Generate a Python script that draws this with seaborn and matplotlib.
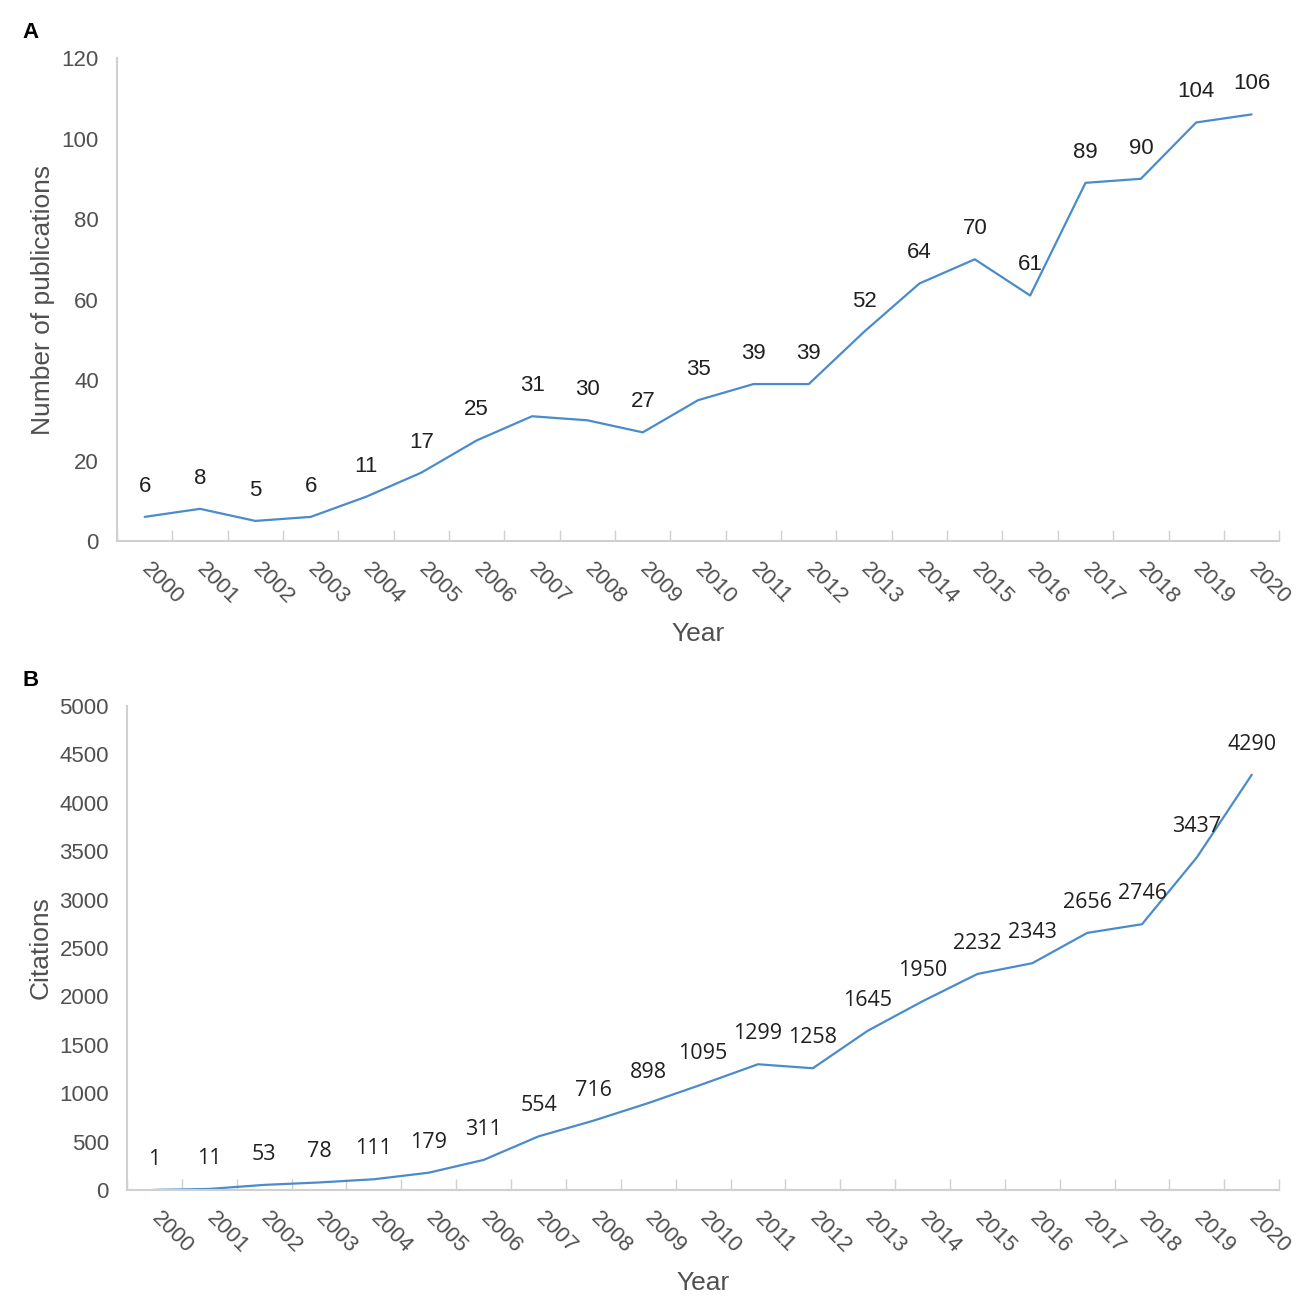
import numpy as np
import pandas as pd
import matplotlib
matplotlib.use("Agg")
import matplotlib.pyplot as plt
import seaborn as sns

years = [str(y) for y in range(2000, 2021)]
publications = [6, 8, 5, 6, 11, 17, 25, 31, 30, 27, 35, 39, 39, 52, 64, 70, 61, 89, 90, 104, 106]
citations = [1, 11, 53, 78, 111, 179, 311, 554, 716, 898, 1095, 1299, 1258, 1645, 1950, 2232,
             2343, 2656, 2746, 3437, 4290]

sns.set_theme(style="white")
plt.rcParams['font.family'] = ['Liberation Sans', 'DejaVu Sans']

line_color = "#4a8ccb"
text_color = "#505050"
spine_color = "#d0d0d0"

fig = plt.figure(figsize=(13, 12.99), dpi=100)
ax_a = fig.add_axes([0.090, 0.5835, 0.894, 0.3718])
ax_b = fig.add_axes([0.0977, 0.0839, 0.8863, 0.3726])


def draw_panel(ax, values, ylim, yticks, ylabel, label_font, label_size, ypad):
    df = pd.DataFrame({"Year": years, "Value": values})
    sns.lineplot(data=df, x="Year", y="Value", ax=ax, color=line_color, linewidth=1.6)
    ax.set_xlim(-0.5, len(years) - 0.5)
    ax.set_ylim(*ylim)
    ax.set_yticks(yticks)
    ax.tick_params(axis="y", labelsize=16, colors=text_color, length=4, width=1,
                   direction="in", color=spine_color, pad=13)
    ax.set_xticks(range(len(years)))
    ax.set_xticklabels(years, rotation=-45, ha="left", va="center",
                       rotation_mode="anchor", fontsize=16, color=text_color)
    ax.tick_params(axis="x", which="major", length=0, pad=18)
    ax.set_xticks(np.arange(-0.5, len(years), 1), minor=True)
    ax.tick_params(axis="x", which="minor", length=8, width=1, direction="in",
                   color=spine_color, bottom=True)
    for side in ["top", "right"]:
        ax.spines[side].set_visible(False)
    for side in ["left", "bottom"]:
        ax.spines[side].set_color(spine_color)
        ax.spines[side].set_linewidth(1.5)
    ax.set_xlabel("Year", fontsize=19, color=text_color, labelpad=10)
    ax.set_ylabel(ylabel, fontsize=19, color=text_color, labelpad=ypad)
    for i, v in enumerate(values):
        ax.annotate(str(v), (i, v), xytext=(0, 22), textcoords="offset points",
                    ha="center", va="center", fontsize=label_size, color="#202020",
                    family=label_font)


draw_panel(ax_a, publications, (0, 120), range(0, 121, 20), "Number of publications",
           ['Liberation Sans', 'DejaVu Sans'], 16, 5)
draw_panel(ax_b, citations, (0, 5000), range(0, 5001, 500), "Citations",
           ['Open Sans', 'DejaVu Sans'], 15.5, 5)

fig.text(0.017, 0.975, "A", fontsize=16, fontweight="bold", color="black", va="center")
fig.text(0.017, 0.476, "B", fontsize=16, fontweight="bold", color="black", va="center")

fig.savefig("out.png", dpi=100, facecolor="white")
